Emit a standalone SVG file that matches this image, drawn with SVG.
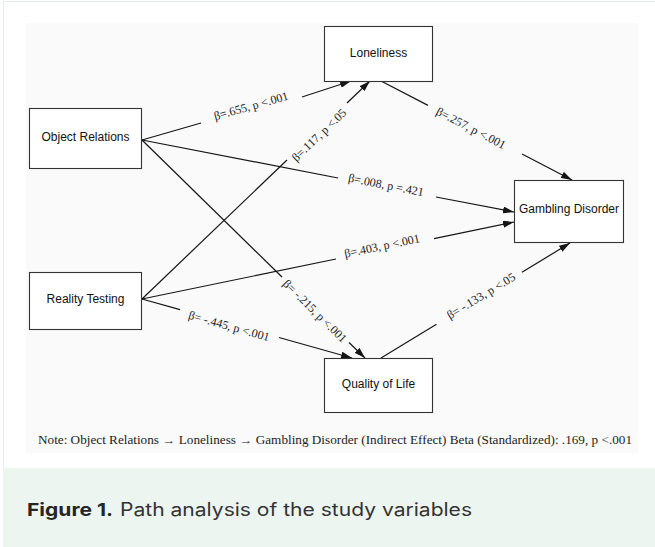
<svg xmlns="http://www.w3.org/2000/svg" width="655" height="547" viewBox="0 0 655 547">
<defs>
<style>
.box{fill:#fff;stroke:#333;stroke-width:1.1}
.node{font-family:"Liberation Sans",Arial,sans-serif;font-size:12px;fill:#111;text-anchor:middle;dominant-baseline:central}
.lbl{font-family:"Liberation Serif","Times New Roman",serif;font-size:12px;fill:#222;text-anchor:middle;dominant-baseline:central}
.ln{stroke:#151515;stroke-width:1.2;fill:none}
.arr{marker-end:url(#ah)}
</style>
<marker id="ah" viewBox="0 0 11 7" refX="11" refY="3.5" markerWidth="11" markerHeight="7" markerUnits="userSpaceOnUse" orient="auto">
<path d="M0,0 L11,3.5 L0,7 z" fill="#151515"/>
</marker>
</defs>
<rect x="0" y="0" width="655" height="547" fill="#fff"/>
<rect x="3.5" y="1.5" width="660" height="467" fill="#fff" stroke="#e4ede9"/>
<rect x="26" y="23" width="612" height="430" fill="#fafafa"/>
<rect x="3" y="468" width="652" height="79" fill="#edf5f1"/>

<g id="connectors">
<line class="ln" x1="142" y1="140" x2="201" y2="123"/>
<line class="ln arr" x1="302" y1="97" x2="351" y2="81"/>
<text class="lbl" transform="translate(251,106) rotate(-15.8)">β=.655, p &lt;.001</text>

<line class="ln" x1="142" y1="299" x2="287" y2="160"/>
<line class="ln arr" x1="347" y1="103" x2="370" y2="81"/>
<text class="lbl" transform="translate(319,135) rotate(-43.7)">β=.117, p &lt;.05</text>

<line class="ln" x1="142" y1="140" x2="338" y2="178"/>
<line class="ln arr" x1="436" y1="197" x2="514" y2="212"/>
<text class="lbl" transform="translate(386,185) rotate(11)">β=.008, p =.421</text>

<line class="ln" x1="142" y1="299" x2="336" y2="259"/>
<line class="ln arr" x1="434" y1="238.6" x2="514" y2="222"/>
<text class="lbl" transform="translate(382,246) rotate(-11.7)">β=.403, p &lt;.001</text>

<line class="ln" x1="142" y1="140" x2="282" y2="277"/>
<line class="ln arr" x1="349" y1="342.5" x2="365" y2="358"/>
<text class="lbl" transform="translate(315,311) rotate(44.4)">β= -.215, p &lt;.001</text>

<line class="ln" x1="142" y1="299" x2="180" y2="309.7"/>
<line class="ln arr" x1="279" y1="337.5" x2="352" y2="358"/>
<text class="lbl" transform="translate(229,326) rotate(15.7)">β= -.445, p &lt;.001</text>

<line class="ln" x1="381" y1="358" x2="436.5" y2="324.2"/>
<line class="ln arr" x1="522" y1="272.3" x2="570" y2="243"/>
<text class="lbl" transform="translate(481,296) rotate(-31.3)">β= -.133, p &lt;.05</text>

<line class="ln" x1="381" y1="81" x2="428" y2="105.4"/>
<line class="ln arr" x1="522" y1="154" x2="572" y2="180"/>
<text class="lbl" transform="translate(471,128) rotate(27.4)">β=.257, p &lt;.001</text>
</g>

<g id="loneliness">
<rect class="box" x="324.5" y="26.5" width="108" height="55"/>
<text class="node" x="378.5" y="53">Loneliness</text>
</g>
<g id="object-relations">
<rect class="box" x="29.5" y="108.5" width="112" height="60"/>
<text class="node" x="85.5" y="137">Object Relations</text>
</g>
<g id="reality-testing">
<rect class="box" x="29.5" y="272.5" width="112" height="57"/>
<text class="node" x="85.5" y="299">Reality Testing</text>
</g>
<g id="gambling-disorder">
<rect class="box" x="514.5" y="180.5" width="109" height="62"/>
<text class="node" x="569" y="209">Gambling Disorder</text>
</g>
<g id="quality-of-life">
<rect class="box" x="324.5" y="358.5" width="108" height="54"/>
<text class="node" x="378.5" y="384">Quality of Life</text>
</g>

<text x="38" y="444" font-family="'Liberation Serif','Times New Roman',serif" font-size="11.5" fill="#222" textLength="594" lengthAdjust="spacingAndGlyphs">Note: Object Relations → Loneliness → Gambling Disorder (Indirect Effect) Beta (Standardized):  .169, p &lt;.001</text>

<text x="27" y="516" font-family="Inter,'Liberation Sans',sans-serif" font-size="18" font-weight="bold" fill="#262626" textLength="86" lengthAdjust="spacingAndGlyphs">Figure 1.</text>
<text x="120" y="516" font-family="Inter,'Liberation Sans',sans-serif" font-size="18" fill="#333" textLength="352" lengthAdjust="spacingAndGlyphs">Path analysis of the study variables</text>
</svg>
